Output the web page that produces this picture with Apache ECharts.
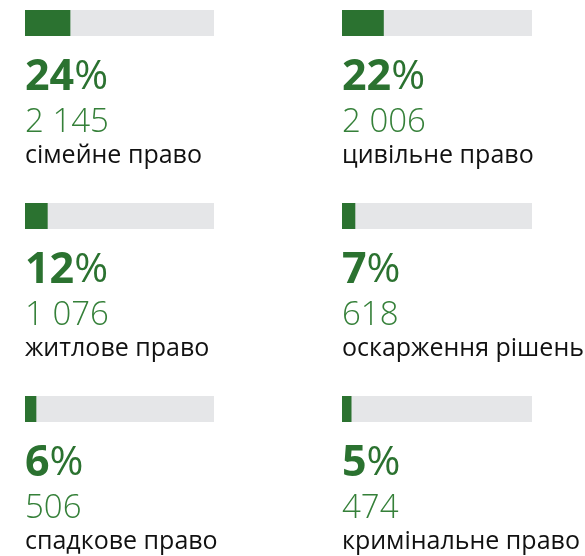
<!DOCTYPE html>
<html>
<head>
<meta charset="utf-8">
<script src="https://cdn.jsdelivr.net/npm/echarts@6/dist/echarts.min.js"></script>
<style>
  html, body { margin: 0; padding: 0; background: #fff; }
  #chart-container { width: 585px; height: 556px; }
</style>
</head>
<body>
<div id="chart-container"></div>
<script>
var dom = document.getElementById("chart-container");
var myChart = echarts.init(dom, null, { renderer: "canvas" });

// дані
const categories = [
  "сімейне право",
  "цивільне право",
  "житлове право",
  "оскарження рішень",
  "спадкове право",
  "кримінальне право",
];
const shares = [24, 22, 12, 7, 6, 5];
const counts = ["2 145", "2 006", "1 076", "618", "506", "474"];

// розкладка
const colLeft = [25, 342];
const colWidth = [189, 190];
const rowTop = [10, 203, 396];
const barH = 26;

const green = "#2b7230";
const countGreen = "#358039";
const font = "'Open Sans', 'Noto Sans', sans-serif";

const grids = [], xAxes = [], yAxes = [], series = [], graphics = [];

categories.forEach((name, i) => {
  const col = i % 2;
  const row = Math.floor(i / 2);
  const left = colLeft[col];
  const top = rowTop[row];

  grids.push({ left: left, top: top, width: colWidth[col], height: barH });
  xAxes.push({ type: "value", gridIndex: i, min: 0, max: 100, show: false });
  yAxes.push({ type: "category", gridIndex: i, data: [name], show: false });
  series.push({
    type: "bar",
    xAxisIndex: i,
    yAxisIndex: i,
    data: [shares[i]],
    barWidth: barH,
    showBackground: true,
    backgroundStyle: { color: "#e5e6e8" },
    itemStyle: { color: green },
    silent: true,
  });

  graphics.push(
    {
      type: "text",
      left: left,
      top: top + 46,
      style: {
        text: `{a|${shares[i]}}{b|%}`,
        rich: {
          a: { fontFamily: font, fontWeight: "bold", fontSize: 43, fill: green },
          b: { fontFamily: font, fontWeight: "normal", fontSize: 41, fill: green },
        },
      },
    },
    {
      type: "text",
      left: left,
      top: top + 96,
      style: {
        text: counts[i],
        fontFamily: font,
        fontWeight: 300,
        fontSize: 33,
        fill: countGreen,
      },
    },
    {
      type: "text",
      left: left,
      top: top + 133,
      style: {
        text: name,
        fontFamily: font,
        fontSize: 25,
        fill: "#111",
      },
    }
  );
});

var option = {
  animation: false,
  grid: grids,
  xAxis: xAxes,
  yAxis: yAxes,
  series: series,
  graphic: graphics,
};

myChart.setOption(option);
window.addEventListener("resize", myChart.resize);
</script>
</body>
</html>
